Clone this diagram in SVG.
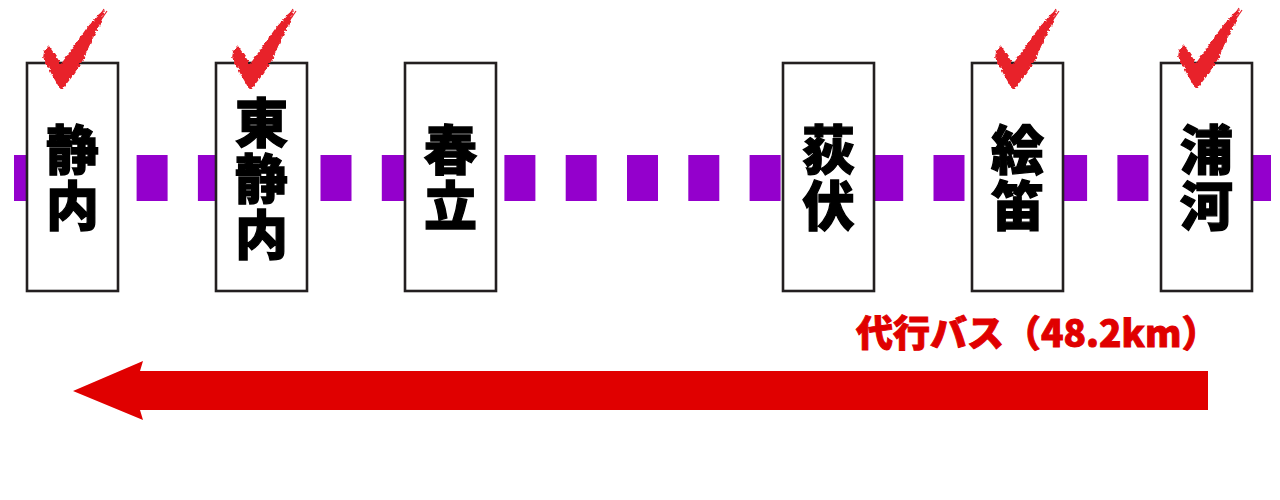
<svg xmlns="http://www.w3.org/2000/svg" width="1280" height="500" viewBox="0 0 1280 500">
  <style>
    .box { fill: #ffffff; stroke: #231f20; stroke-width: 2.6; }
    .name { font-family: "Noto Sans CJK JP", "Noto Sans CJK SC", sans-serif; font-weight: 900; font-size: 53px; fill: #000000; stroke: #000000; stroke-width: 1.3; text-anchor: middle; writing-mode: vertical-rl; letter-spacing: 3px; }
    .check { fill: #e8202a; }
    .scratch { stroke: #e8202a; stroke-width: 1.2; fill: none; }
    .label { font-family: "Noto Sans CJK JP", "Noto Sans CJK SC", sans-serif; font-weight: 900; font-size: 37px; fill: #e00000; stroke: #e00000; stroke-width: 0.9; }
  </style>
  <defs>
    <filter id="rough" x="-20%" y="-20%" width="140%" height="140%">
      <feTurbulence type="fractalNoise" baseFrequency="0.35" numOctaves="2" seed="3" result="n"/>
      <feDisplacementMap in="SourceGraphic" in2="n" scale="4" xChannelSelector="R" yChannelSelector="G"/>
    </filter>
    <g id="tick">
      <path class="check" filter="url(#rough)" d="M0,1 L-9,-15 L-17,-31 L-16,-37 L-11,-42 L-4,-32 L1,-24 L14,-42 L26,-59 L38,-73 L44,-78 L41,-66 L32,-48 L23,-28 L12,-11 L4,-1 Z"/>
      <path class="scratch" d="M30,-56 L44,-79 M34,-58 L47,-77 M36,-64 L43,-75 M28,-52 L40,-71"/>
    </g>
  </defs>

  <rect width="1280" height="500" fill="#ffffff"/>

  <g id="connectors">
    <line id="track" x1="14" y1="178" x2="1280" y2="178" stroke="#9400cc" stroke-width="46" stroke-dasharray="31 30.3"/>
    <g id="bus-arrow">
      <path d="M1208,371 L140,371 L143,361 L73,391 L143,420 L140,410 L1208,410 Z" fill="#e00000"/>
      <text class="label" x="856" y="347">代行バス（48.2km）</text>
    </g>
  </g>

  <g id="station-shizunai">
    <rect class="box" x="27" y="63" width="91" height="228"/>
    <text class="name" x="72.5" y="179">静内</text>
    <use href="#tick" x="60" y="88"/>
  </g>

  <g id="station-higashi-shizunai">
    <rect class="box" x="216" y="63" width="91" height="228"/>
    <text class="name" x="261.5" y="180">東静内</text>
    <use href="#tick" x="249" y="88"/>
  </g>

  <g id="station-harutachi">
    <rect class="box" x="405" y="63" width="91" height="228"/>
    <text class="name" x="450.5" y="179">春立</text>
  </g>

  <g id="station-ogifushi">
    <rect class="box" x="783" y="63" width="91" height="228"/>
    <text class="name" x="828.5" y="179">荻伏</text>
  </g>

  <g id="station-ebue">
    <rect class="box" x="972" y="63" width="91" height="228"/>
    <text class="name" x="1017.5" y="179">絵笛</text>
    <use href="#tick" x="1012" y="88"/>
  </g>

  <g id="station-urakawa">
    <rect class="box" x="1161" y="63" width="91" height="228"/>
    <text class="name" x="1206.5" y="179">浦河</text>
    <use href="#tick" x="1195" y="87"/>
  </g>
</svg>
